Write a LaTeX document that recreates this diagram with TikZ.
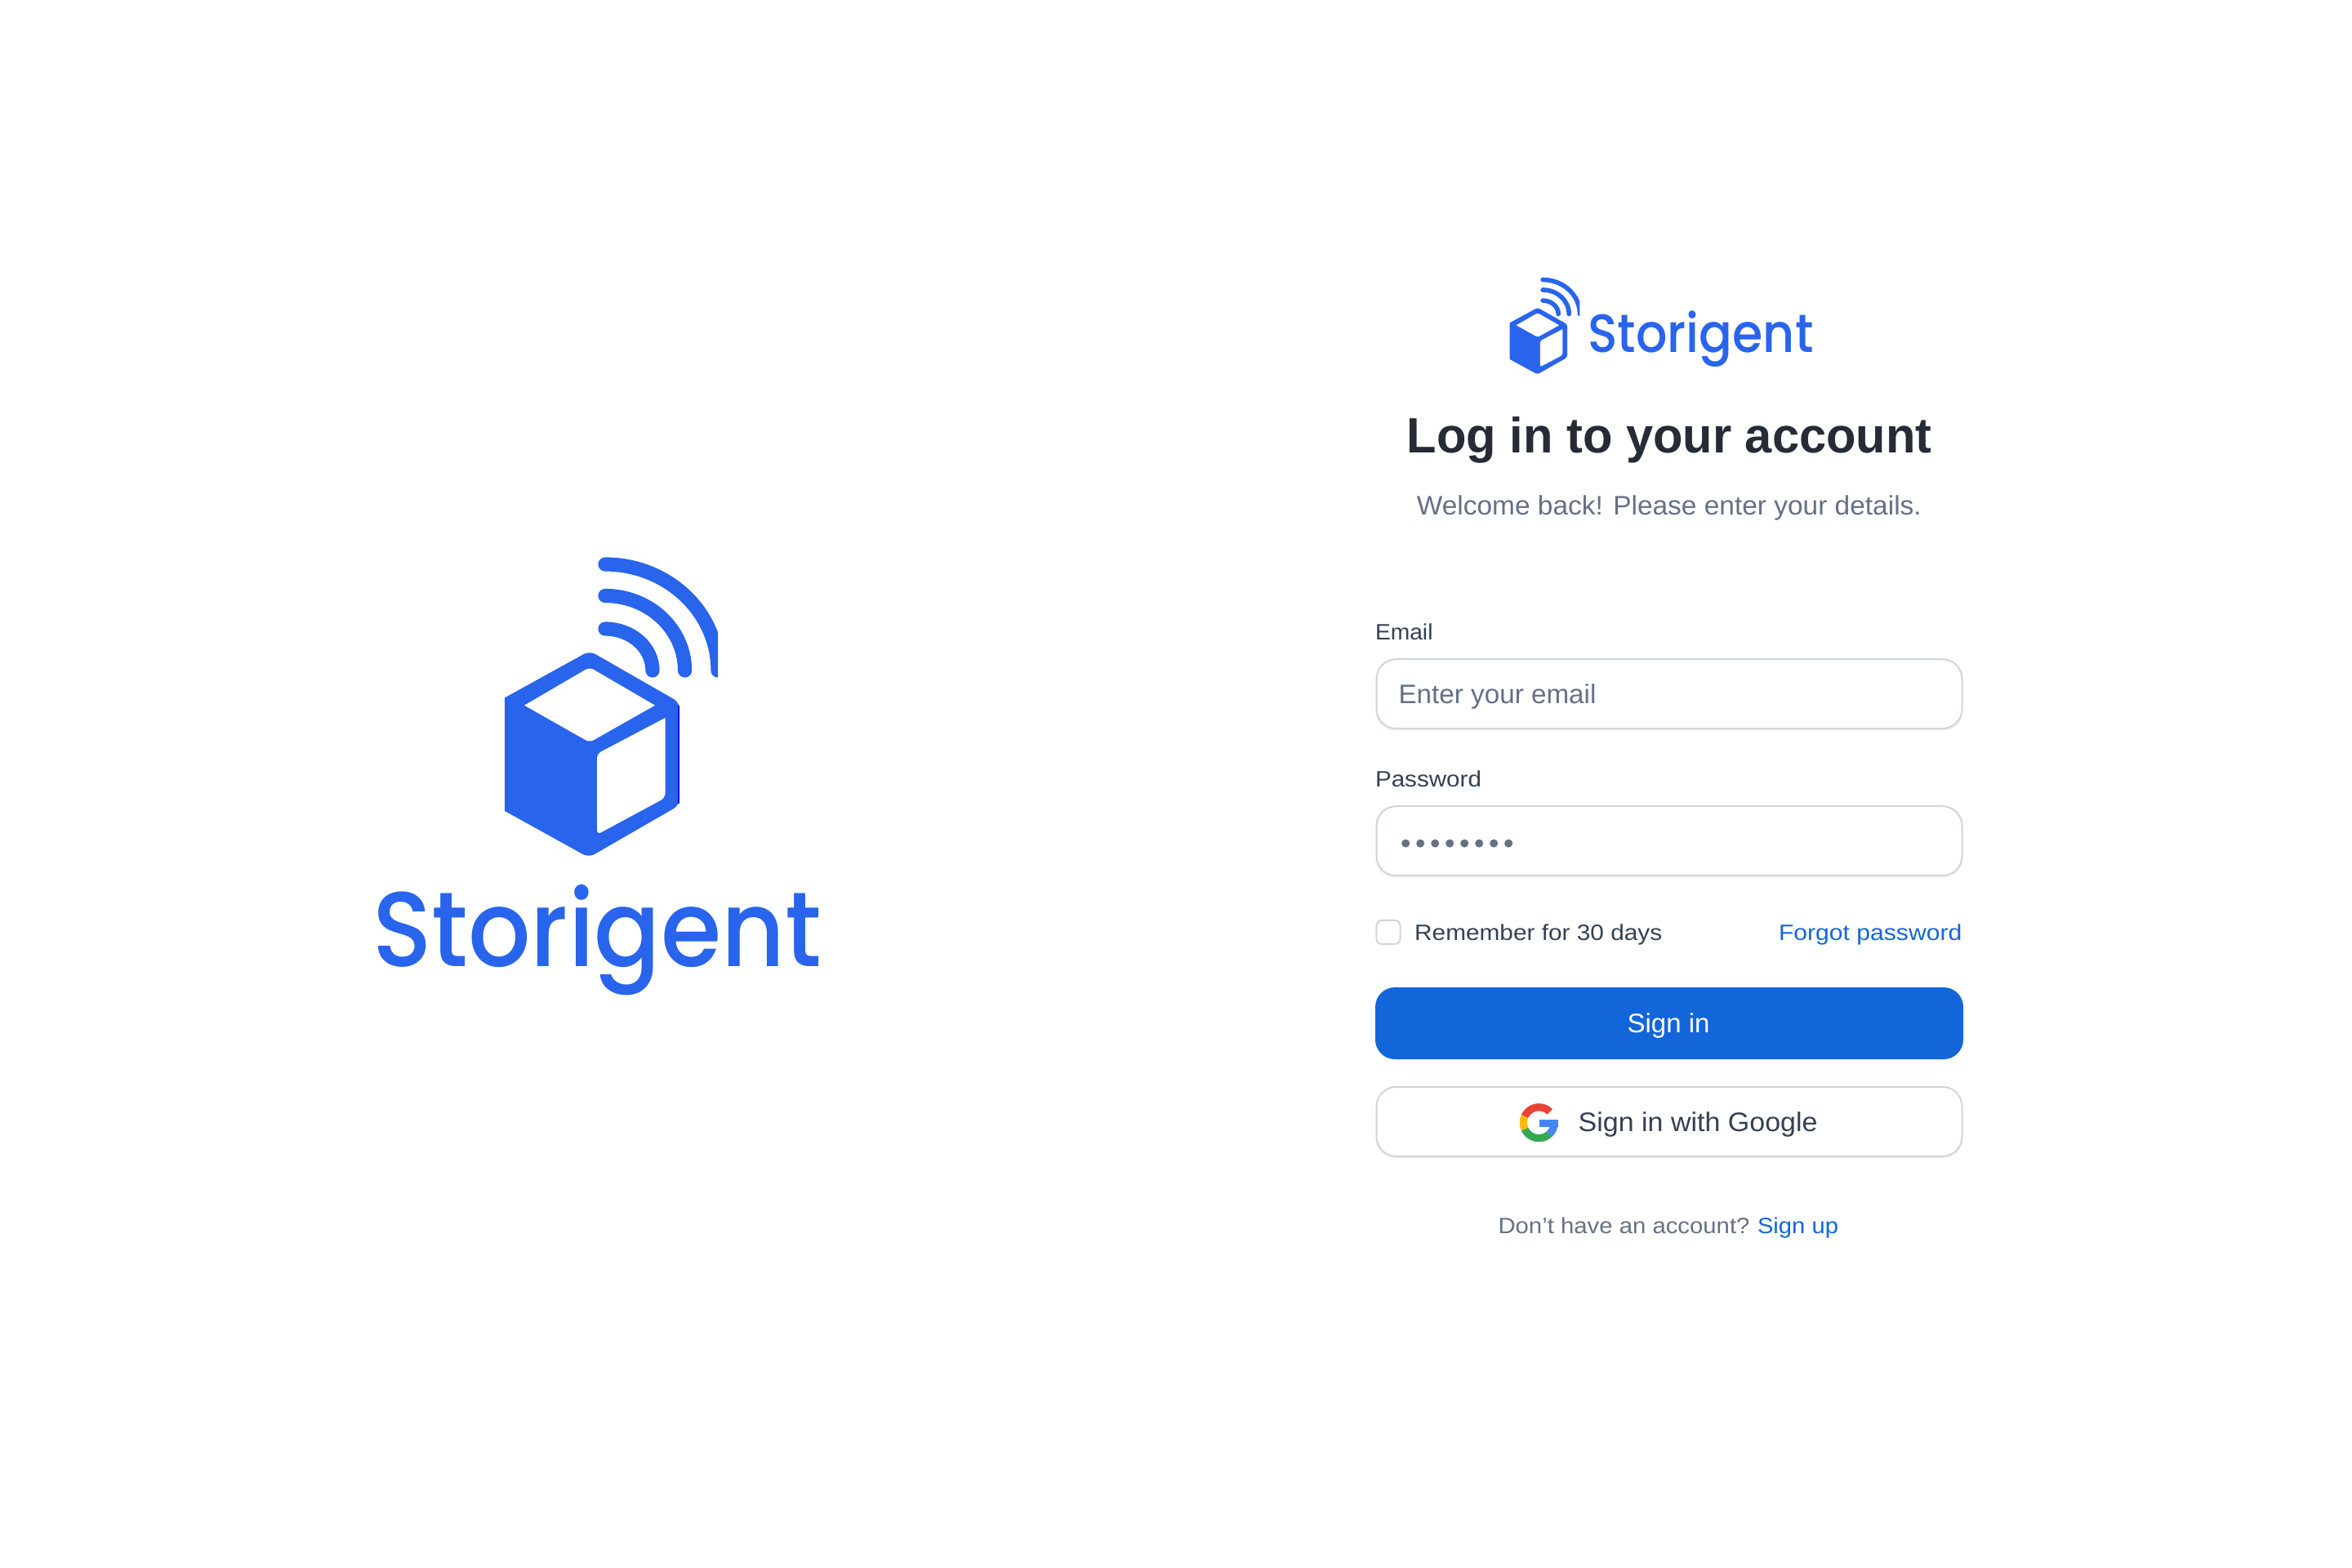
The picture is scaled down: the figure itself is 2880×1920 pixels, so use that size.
\documentclass[tikz,border=0pt]{standalone}
\usepackage{fontspec}
\usepackage{graphicx}
\setmainfont{Liberation Sans}
\newfontfamily\logofont{Poppins Medium}
\newlength\pxu \setlength\pxu{0.5pt}
\definecolor{brand}{HTML}{2864EC}
\definecolor{edgeblue}{HTML}{0A0AE0}
\definecolor{heading}{HTML}{272B36}
\definecolor{muted}{HTML}{667085}
\definecolor{labelc}{HTML}{344054}
\definecolor{linkc}{HTML}{1366D9}
\definecolor{borderc}{HTML}{D0D5DD}
\definecolor{shadowc}{HTML}{F3F4F6}
\definecolor{gred}{HTML}{EA4335}
\definecolor{gyellow}{HTML}{FBBC05}
\definecolor{ggreen}{HTML}{34A853}
\definecolor{gblue}{HTML}{4285F4}
\newcommand\fitw[2]{\resizebox{#1\pxu}{\height}{#2}}
\newcommand\fsz[1]{\fontsize{#1}{#1}\selectfont}
\newcommand\qarc[4]{({#1},{#2-#4}) .. controls ({#1+0.5523*#3},{#2-#4}) and ({#1+#3},{#2-0.5523*#4}) .. ({#1+#3},{#2})}
\newcommand\gseg[3]{\fill[#3] plot[domain=#1:#2,samples=24] ({1884.3+23.5*cos(\x)},{1374.7-23.5*sin(\x)}) -- plot[domain=#2:#1,samples=24] ({1884.3+14.3*cos(\x)},{1374.7-14.3*sin(\x)}) -- cycle;}
% #1 corner radius (pt), #2 arc line width (pt)
\newcommand\cubelogo[2]{%
  \fill[brand] (618,854.4) [rounded corners=#1] -- (722,797) -- (832,860) -- (832,986) -- (721,1050) [sharp corners] -- (618,993) -- cycle;
  \fill[white] (642,863.7) [rounded corners=0.7*#1] -- (722,817) [sharp corners] -- (802,863.7) [rounded corners=0.7*#1] -- (722,909) [sharp corners] -- cycle;
  \fill[white] (814.5,879) [rounded corners=0.7*#1] -- (731,923) -- (731,1022) -- (814.5,977) [sharp corners] -- cycle;
  \begin{scope}
    \clip (720,670) rectangle (879,860);
    \draw[brand,line width=#2,line cap=round] \qarc{741}{821}{138}{130};
  \end{scope}
  \draw[brand,line width=#2,line cap=round] \qarc{741}{821}{97.6}{91.5};
  \draw[brand,line width=#2,line cap=round] \qarc{741}{821}{58}{51};
}
\tikzset{
  txt/.style={inner sep=0pt,outer sep=0pt,anchor=base west},
  fieldbox/.style={draw=borderc,line width=1pt,rounded corners=12pt,fill=white,inner sep=0pt,outer sep=0pt,minimum width=358.5pt,minimum height=42.5pt},
  shadowbox/.style={fill=shadowc,rounded corners=12pt,inner sep=0pt,outer sep=0pt,minimum width=359.5pt,minimum height=43.5pt},
  dotn/.style={circle,fill=muted,inner sep=0pt,outer sep=0pt,minimum size=5pt}
}
\begin{document}
\begin{tikzpicture}[x=0.5pt,y=-0.5pt]
\useasboundingbox (0,0) rectangle (2880,1920);
\fill[white] (0,0) rectangle (2880,1920);
% large logo
\cubelogo{4pt}{8.6pt}
\draw[edgeblue,line width=1pt] (831,864) -- (831,984);
\node[txt,text=brand] (biglogo) at (456,1183) {\fitw{550}{\logofont\fsz{65}Storigent}};
% small logo
\begin{scope}[shift={(1848.7,377.7)},xscale=0.3285,yscale=0.3226,shift={(-618,-800)}]
\cubelogo{1.4pt}{2.8pt}
\end{scope}
\node[txt,text=brand] (smalllogo) at (1944.5,432) {\fitw{276}{\logofont\fsz{33}Storigent}};
% heading
\node[txt,text=heading] (title) at (1722.6,554.3) {\fitw{643}{\fsz{30.4}\bfseries Log in to your account}};
\node[txt,text=muted] (subtitle) at (1734.8,630) {\fitw{618}{\fsz{16.4}Welcome back! Please enter your details.}};
% email
\node[txt,text=labelc] (emaillabel) at (1684,783.3) {\fitw{70.5}{\fsz{13.6}Email}};
\node[shadowbox] (emailshadow) at (2044,851.5) {};
\node[fieldbox] (emailbox) at (2044,849.7) {};
\node[txt,text=muted] (emailtext) at (1712.5,861.7) {\fitw{242}{\fsz{16.4}Enter your email}};
% password
\node[txt,text=labelc] (pwlabel) at (1684,963.3) {\fitw{130}{\fsz{13.6}Password}};
\node[shadowbox] (pwshadow) at (2044,1031.5) {};
\node[fieldbox] (pwbox) at (2044,1029.7) {};
\foreach \i in {0,...,7} \node[dotn] (dot\i) at (1721.2+18*\i,1032.7) {};
% remember
\node[draw=borderc,line width=1pt,rounded corners=3.5pt,fill=white,inner sep=0pt,outer sep=0pt,minimum width=14.6pt,minimum height=14.6pt] (check) at (1700,1141.5) {};
\node[txt,text=labelc] (remember) at (1732.2,1151) {\fitw{303}{\fsz{13.6}Remember for 30 days}};
\node[txt,text=linkc] (forgot) at (2178,1151) {\fitw{224.3}{\fsz{13.6}Forgot password}};
% sign in
\node[fill=linkc,rounded corners=12pt,inner sep=0pt,outer sep=0pt,minimum width=360pt,minimum height=44pt] (signin) at (2044,1253) {};
\node[txt,text=white] (signintext) at (1992.5,1264) {\fitw{101}{\fsz{16.4}Sign in}};
% google
\node[shadowbox] (gshadow) at (2044,1375.2) {};
\node[fieldbox] (googlebox) at (2044,1373.4) {};
\gseg{45}{156}{gred}
\gseg{156}{205}{gyellow}
\gseg{205}{313}{ggreen}
\gseg{313}{360}{gblue}
\fill[gblue] (1885,1370.7) rectangle (1907.6,1380);
\node[txt,text=labelc] (googletext) at (1932.6,1385) {\fitw{293}{\fsz{16.4}Sign in with Google}};
% footer
\node[txt,text=muted] (noacct) at (1834.5,1510.5) {\fitw{308}{\fsz{13.6}Don’t have an account?}};
\node[txt,text=linkc] (signup) at (2152,1510.5) {\fitw{99}{\fsz{13.6}Sign up}};
\end{tikzpicture}
\end{document}
